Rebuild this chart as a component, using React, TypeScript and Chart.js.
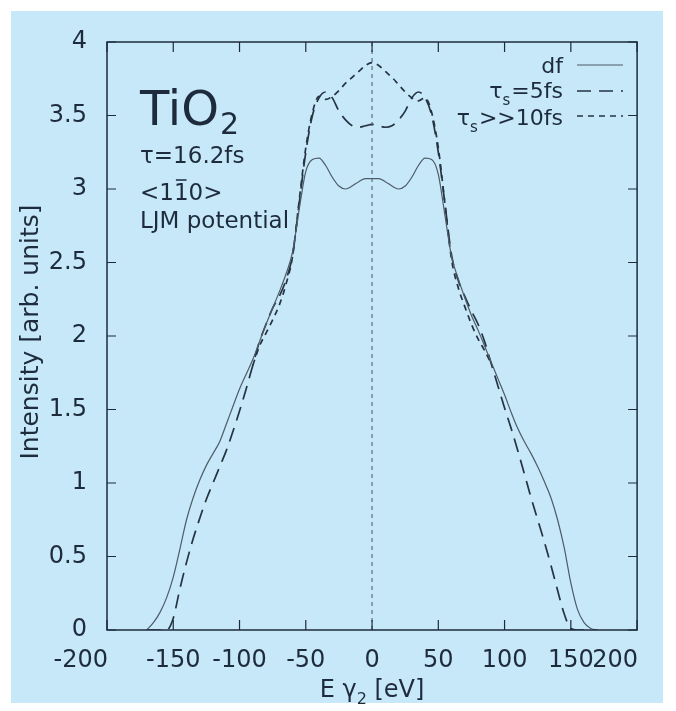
import React, { useEffect, useRef } from "react";
import { Chart, registerables } from "chart.js";

Chart.register(...registerables);

// ---- data ----
const energies = [
  -170, -165, -160, -155, -150, -145, -140, -135, -130, -125, -120, -115, -110, -105, -100, -95, -90, -85,
  -80, -75, -70, -65, -60, -55, -50, -45, -40, -35, -30, -25, -20, -15, -10, -5, 0, 5, 10, 15, 20, 25, 30,
  35, 40, 45, 50, 55, 60, 65, 70, 75, 80, 85, 90, 95, 100, 105, 110, 115, 120, 125, 130, 135, 140, 145,
  150, 155, 160, 165, 170,
];

const dfIntensity = [
  0, 0.05, 0.12, 0.22, 0.36, 0.55, 0.75, 0.9, 1.02, 1.12, 1.2, 1.28, 1.4, 1.52, 1.64, 1.74, 1.84, 1.96,
  2.08, 2.19, 2.3, 2.42, 2.57, 2.86, 3.12, 3.2, 3.21, 3.16, 3.08, 3.02, 3.0, 3.02, 3.05, 3.07, 3.07, 3.07,
  3.05, 3.02, 3.0, 3.02, 3.08, 3.16, 3.21, 3.2, 3.1, 2.82, 2.54, 2.39, 2.26, 2.14, 2.04, 1.93, 1.82, 1.71,
  1.6, 1.48, 1.37, 1.28, 1.2, 1.11, 1.01, 0.9, 0.75, 0.56, 0.32, 0.14, 0.05, 0.01, 0,
];

const tau5Intensity = [
  0, 0, 0, 0, 0.08, 0.28, 0.46, 0.62, 0.76, 0.89, 1.0, 1.11, 1.22, 1.35, 1.49, 1.64, 1.8, 1.96,
  2.08, 2.19, 2.27, 2.38, 2.55, 2.9, 3.25, 3.5, 3.62, 3.66, 3.62, 3.53, 3.47, 3.43, 3.42, 3.43, 3.44, 3.43,
  3.42, 3.43, 3.47, 3.53, 3.62, 3.66, 3.62, 3.5, 3.25, 2.9, 2.55, 2.38, 2.27, 2.17, 2.08, 1.96, 1.81, 1.66,
  1.51, 1.37, 1.22, 1.06, 0.9, 0.75, 0.6, 0.44, 0.27, 0.11, 0.01, 0, 0, 0, 0,
];

const tau10Intensity = [
  null, null, null, null, null, null, null, null, null, null, null, null, null, null, null, null, 1.8, 1.93,
  2.02, 2.11, 2.21, 2.35, 2.54, 2.92, 3.28, 3.52, 3.63, 3.61, 3.63, 3.67, 3.72, 3.76, 3.8, 3.84, 3.86, 3.84,
  3.8, 3.76, 3.71, 3.66, 3.62, 3.6, 3.62, 3.52, 3.28, 2.9, 2.52, 2.33, 2.2, 2.08, 1.98, 1.9, 1.81, null,
  null, null, null, null, null, null, null, null, null, null, null, null, null, null, null,
];

const xRange = [-200, 200];
const xStep = 50;
const yRange = [0, 4];
const yStep = 0.5;

const legendLabels = ["df", "=5fs", ">>10fs"];

// ---- styling ----
const FONT = "'DejaVu Sans', sans-serif";
const INK = "#1d2b3d";
const PANEL = "#c6e8f8";

function drawFancy(ctx: CanvasRenderingContext2D, chart: any) {
  const area = chart.chartArea;
  const xs = chart.scales.x;
  const ys = chart.scales.y;
  ctx.save();

  // zero dashed line
  const x0 = xs.getPixelForValue(0);
  ctx.strokeStyle = "#4a5868";
  ctx.lineWidth = 1;
  ctx.setLineDash([4, 4]);
  ctx.beginPath();
  ctx.moveTo(x0, area.bottom);
  ctx.lineTo(x0, area.top);
  ctx.stroke();
  ctx.setLineDash([]);

  // border
  ctx.strokeStyle = INK;
  ctx.lineWidth = 1.5;
  ctx.strokeRect(area.left, area.top, area.right - area.left, area.bottom - area.top);

  // inward ticks
  ctx.lineWidth = 1.2;
  ctx.beginPath();
  xs.ticks.forEach((t: any) => {
    const p = xs.getPixelForValue(t.value);
    ctx.moveTo(p, area.bottom);
    ctx.lineTo(p, area.bottom - 10);
    ctx.moveTo(p, area.top);
    ctx.lineTo(p, area.top + 10);
  });
  ys.ticks.forEach((t: any) => {
    const p = ys.getPixelForValue(t.value);
    ctx.moveTo(area.left, p);
    ctx.lineTo(area.left + 9, p);
    ctx.moveTo(area.right, p);
    ctx.lineTo(area.right - 9, p);
  });
  ctx.stroke();

  ctx.fillStyle = INK;

  // end tick labels of x axis, right-aligned to their ticks as in the reference
  ctx.font = `24px ${FONT}`;
  ctx.textAlign = "right";
  ctx.textBaseline = "middle";
  [xRange[0], xRange[1]].forEach((v) => {
    ctx.fillText(String(v), xs.getPixelForValue(v) + 1, 661);
  });

  ctx.textBaseline = "alphabetic";

  // annotation
  ctx.textAlign = "left";
  ctx.font = `48px ${FONT}`;
  ctx.fillText("TiO", 140, 125);
  const tw = ctx.measureText("TiO").width;
  ctx.font = `30px ${FONT}`;
  ctx.fillText("2", 140 + tw + 1, 134);

  ctx.font = `23px ${FONT}`;
  ctx.fillText("τ=16.2fs", 140, 163);

  const a = "<1";
  const b = "1";
  const c = "0>";
  ctx.fillText(a, 140, 200);
  const wa = ctx.measureText(a).width;
  const wb = ctx.measureText(b).width;
  ctx.fillText(b, 140 + wa, 200);
  ctx.fillText(c, 140 + wa + wb, 200);
  ctx.lineWidth = 1.5;
  ctx.strokeStyle = INK;
  ctx.beginPath();
  ctx.moveTo(140 + wa + 2, 180);
  ctx.lineTo(140 + wa + wb - 2, 180);
  ctx.stroke();

  ctx.fillText("LJM potential", 140, 228);

  // legend
  const ds = chart.data.datasets;
  const rightX = 563;
  const rows = [
    { base: 73, lineY: 65 },
    { base: 98, lineY: 91 },
    { base: 125, lineY: 116 },
  ];
  rows.forEach((r, i) => {
    ctx.font = `22px ${FONT}`;
    ctx.textAlign = "right";
    ctx.fillStyle = INK;
    ctx.fillText(legendLabels[i], rightX, r.base);
    if (i > 0) {
      const w = ctx.measureText(legendLabels[i]).width;
      ctx.font = `15px ${FONT}`;
      ctx.fillText("s", rightX - w - 1, r.base + 7);
      const ws = ctx.measureText("s").width;
      ctx.font = `22px ${FONT}`;
      ctx.fillText("τ", rightX - w - ws - 1, r.base);
    }
    const d = ds[i];
    ctx.strokeStyle = d.borderColor;
    ctx.lineWidth = d.borderWidth;
    ctx.setLineDash(d.borderDash || []);
    ctx.beginPath();
    ctx.moveTo(577, r.lineY);
    ctx.lineTo(623, r.lineY);
    ctx.stroke();
    ctx.setLineDash([]);
  });

  // x title
  ctx.fillStyle = INK;
  ctx.textAlign = "left";
  ctx.font = `24px ${FONT}`;
  const p1 = "E γ";
  const p3 = " [eV]";
  const w1 = ctx.measureText(p1).width;
  const w3 = ctx.measureText(p3).width;
  ctx.font = `16px ${FONT}`;
  const w2 = ctx.measureText("2").width;
  const total = w1 + w2 + w3;
  const cx = xs.getPixelForValue(0);
  const sx = cx - total / 2;
  ctx.font = `24px ${FONT}`;
  ctx.fillText(p1, sx, 697);
  ctx.font = `16px ${FONT}`;
  ctx.fillText("2", sx + w1, 704);
  ctx.font = `24px ${FONT}`;
  ctx.fillText(p3, sx + w1 + w2, 697);

  // y title
  ctx.save();
  ctx.translate(31, 332);
  ctx.rotate(-Math.PI / 2);
  ctx.textAlign = "center";
  ctx.textBaseline = "middle";
  ctx.font = `25px ${FONT}`;
  ctx.fillText("Intensity [arb. units]", 0, 0);
  ctx.restore();

  ctx.restore();
}

const decorPlugin = {
  id: "decor",
  beforeDraw(chart: any) {
    const ctx = chart.ctx;
    ctx.save();
    ctx.fillStyle = "#ffffff";
    ctx.fillRect(0, 0, chart.width, chart.height);
    ctx.fillStyle = PANEL;
    ctx.fillRect(11, 11, 652, 692);
    ctx.restore();
  },
  afterDraw(chart: any) {
    drawFancy(chart.ctx, chart);
  },
};

export default function App() {
  const ref = useRef<HTMLCanvasElement | null>(null);

  useEffect(() => {
    document.body.style.margin = "0";
    const canvas = ref.current;
    if (!canvas) return;
    const toPts = (ys: (number | null)[]) => energies.map((x, i) => ({ x, y: ys[i] }));
    const chart = new Chart(canvas, {
      type: "line",
      data: {
        datasets: [
          {
            label: "df",
            data: toPts(dfIntensity),
            borderColor: "#4e5b6a",
            borderWidth: 1.2,
            pointRadius: 0,
            cubicInterpolationMode: "monotone",
            spanGaps: false,
          },
          {
            label: "τs=5fs",
            data: toPts(tau5Intensity),
            borderColor: "#263343",
            borderWidth: 1.7,
            borderDash: [14, 8],
            pointRadius: 0,
            cubicInterpolationMode: "monotone",
          },
          {
            label: "τs>>10fs",
            data: toPts(tau10Intensity),
            borderColor: "#263343",
            borderWidth: 1.7,
            borderDash: [6, 5],
            pointRadius: 0,
            cubicInterpolationMode: "monotone",
            spanGaps: false,
          },
        ] as any,
      },
      options: {
        responsive: false,
        animation: false,
        devicePixelRatio: 1,
        layout: { padding: { left: 0, top: 42, right: 29, bottom: 0 } },
        plugins: { legend: { display: false }, tooltip: { enabled: false } },
        scales: {
          x: {
            type: "linear",
            min: xRange[0],
            max: xRange[1],
            grid: { display: false, drawTicks: false },
            border: { display: false },
            ticks: {
              stepSize: xStep,
              color: (c: any) =>
                c.tick && (c.tick.value === xRange[0] || c.tick.value === xRange[1]) ? "rgba(0,0,0,0)" : INK,
              font: { family: FONT, size: 24 },
              padding: 16,
              maxRotation: 0,
              autoSkip: false,
              callback: (v: any) => String(v),
            },
            afterFit: (s: any) => {
              s.height = 81;
            },
          },
          y: {
            type: "linear",
            min: yRange[0],
            max: yRange[1],
            grid: { display: false, drawTicks: false },
            border: { display: false },
            ticks: {
              stepSize: yStep,
              color: INK,
              font: { family: FONT, size: 24 },
              padding: 20,
              callback: (v: any) => String(v),
            },
            afterFit: (s: any) => {
              s.width = 107;
            },
          },
        },
      } as any,
      plugins: [decorPlugin],
    });
    return () => chart.destroy();
  }, []);

  return (
    <div style={{ width: 676, height: 711 }}>
      <canvas ref={ref} width={676} height={711} style={{ display: "block" }} />
    </div>
  );
}
